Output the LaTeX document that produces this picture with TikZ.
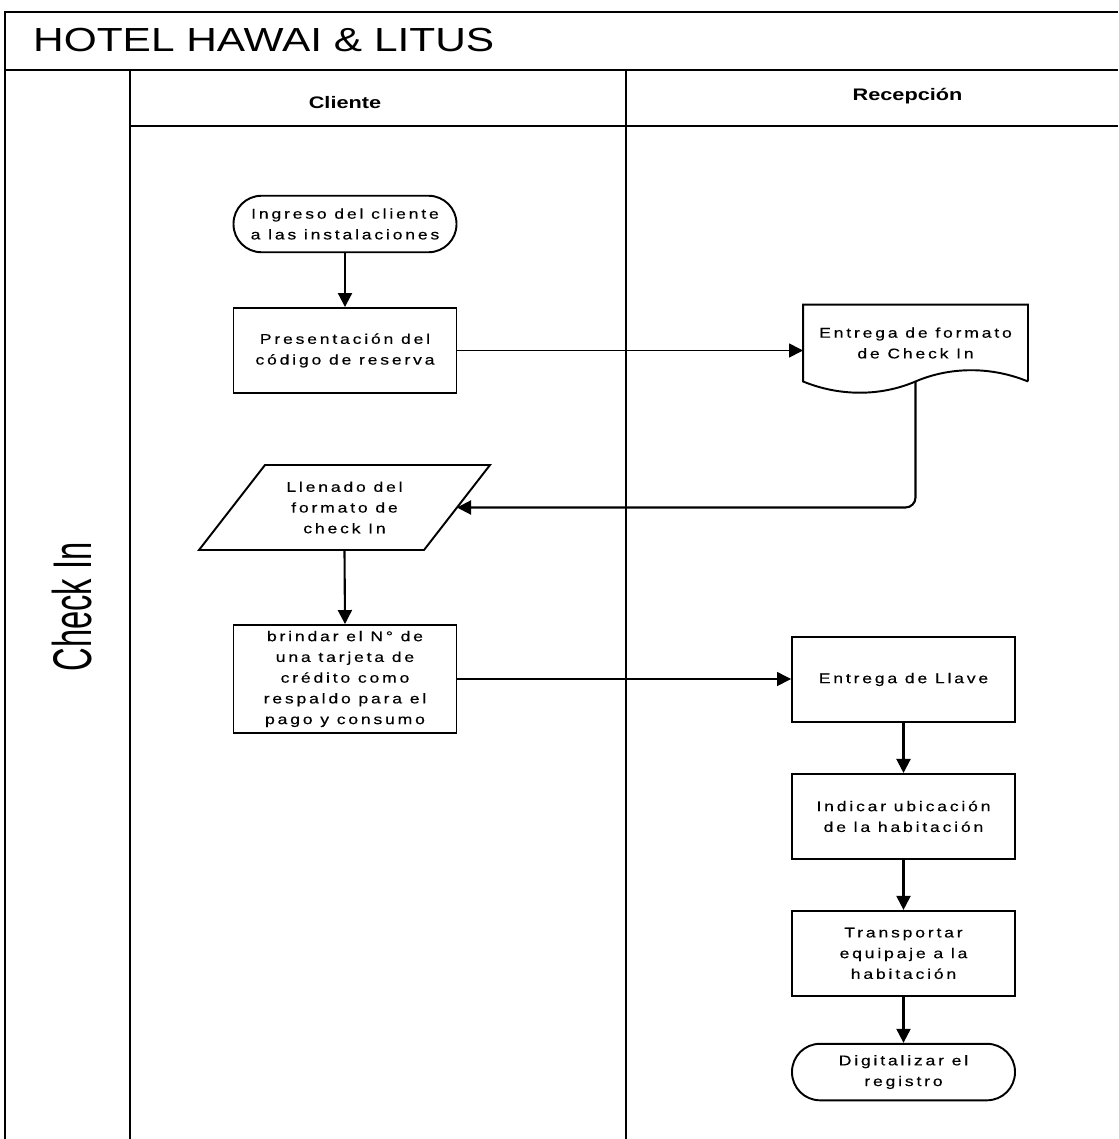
\documentclass[tikz,border=0pt]{standalone}
\usepackage{fontspec}
\setmainfont{Liberation Sans}
\newfontfamily\bodyfont[FakeStretch=1.25,LetterSpace=20,FakeBold=0.4]{Liberation Sans}
\newfontfamily\headfont[FakeStretch=1.3]{Liberation Sans}
\newfontfamily\titlefont[FakeStretch=1.27]{Liberation Sans}
\newfontfamily\lanefont[FakeStretch=0.6]{Liberation Sans}
\usetikzlibrary{arrows.meta,positioning}

\begin{document}
\begin{tikzpicture}[
  node distance=1cm,
  box/.style={
    draw,
    line width=1.1pt,
    minimum width=4.46cm,
    minimum height=1.7cm,
    align=center,
    inner sep=1mm,
    font=\bodyfont\fontsize{8}{11.8}\selectfont
  },
  term/.style={box,rounded corners=5.6mm,minimum height=1.13cm},
  textonly/.style={box,draw=none},
  flow/.style={-{Triangle[length=2.8mm,width=2.8mm]},line width=1.2pt},
  lane/.style={line width=1.1pt}
]
  \useasboundingbox (0,0) rectangle (22.36,-22.78);

  % pool and lanes
  \draw[lane] (22.36,-0.24) -- (0.1,-0.24) -- (0.1,-22.78);
  \draw[lane] (0.1,-1.4) -- (22.36,-1.4);
  \draw[lane] (2.6,-1.4) -- (2.6,-22.78);
  \draw[lane] (12.52,-1.4) -- (12.52,-22.78);
  \draw[lane] (2.6,-2.52) -- (22.36,-2.52);

  \node[anchor=base west,font=\titlefont\fontsize{19}{22}\selectfont] (title) at (0.54,-1.04) {HOTEL HAWAI \& LITUS};
  \node[font=\headfont\bfseries\fontsize{9.5}{11}\selectfont] (cliente) at (6.9,-2.06) {Cliente};
  \node[font=\headfont\bfseries\fontsize{9.5}{11}\selectfont] (recepcion) at (18.15,-1.92) {Recepción};
  \node[rotate=90,font=\lanefont\fontsize{31}{36}\selectfont] (checkin) at (1.44,-12.14) {Check In};

  % Cliente
  \node[term] (ingreso) at (6.9,-4.48) {Ingreso del cliente\\a las instalaciones};
  \node[box] (presenta) at (6.9,-7.01) {Presentación del\\código de reserva};
  \node[textonly,minimum width=3cm] (llenado) at (6.89,-10.15) {Llenado del\\formato de\\check In};
  \draw[line width=1.1pt] (llenado.center) ++(-1.59,0.85) -- ++(4.5,0) -- ++(-1.32,-1.7) -- ++(-4.5,0) -- cycle;
  \coordinate (llenado-in) at (9.14,-10.15);
  \node[box,minimum height=2.16cm] (brindar) at (6.9,-13.58) {brindar el N° de\\una tarjeta de\\crédito como\\respaldo para el\\pago y consumo};

  % Recepcion
  \node[textonly,minimum height=1.5cm] (formato) at (18.31,-6.86) {Entrega de formato\\de Check In};
  \draw[line width=1.1pt] (formato.south east) -- (formato.north east) -- (formato.north west) -- (formato.south west)
    .. controls +(0.73,-0.3) and +(-0.7,-0.3) .. (formato.south)
    .. controls +(0.7,0.3) and +(-0.73,0.3) .. (formato.south east);
  \node[box] (llave) at (18.07,-13.59) {Entrega de Llave};
  \node[box,below=of llave] (indicar) {Indicar ubicación\\de la habitación};
  \node[box,below=of indicar] (transportar) {Transportar\\equipaje a la\\habitación};
  \node[term,below=0.92cm of transportar] (digitalizar) {Digitalizar el\\registro};

  \draw[flow] (ingreso) -- (presenta);
  \draw[flow,line width=0.8pt] (presenta.east) -- (presenta.east -| formato.west);
  \draw[flow,rounded corners=2mm] (formato.south) |- (llenado-in);
  \draw[flow] (llenado.south) -- (brindar.north);
  \draw[flow,line width=0.8pt] (brindar.east) -- (brindar.east -| llave.west);
  \draw[flow] (llave) -- (indicar);
  \draw[flow] (indicar) -- (transportar);
  \draw[flow] (transportar) -- (digitalizar);
\end{tikzpicture}
\end{document}
